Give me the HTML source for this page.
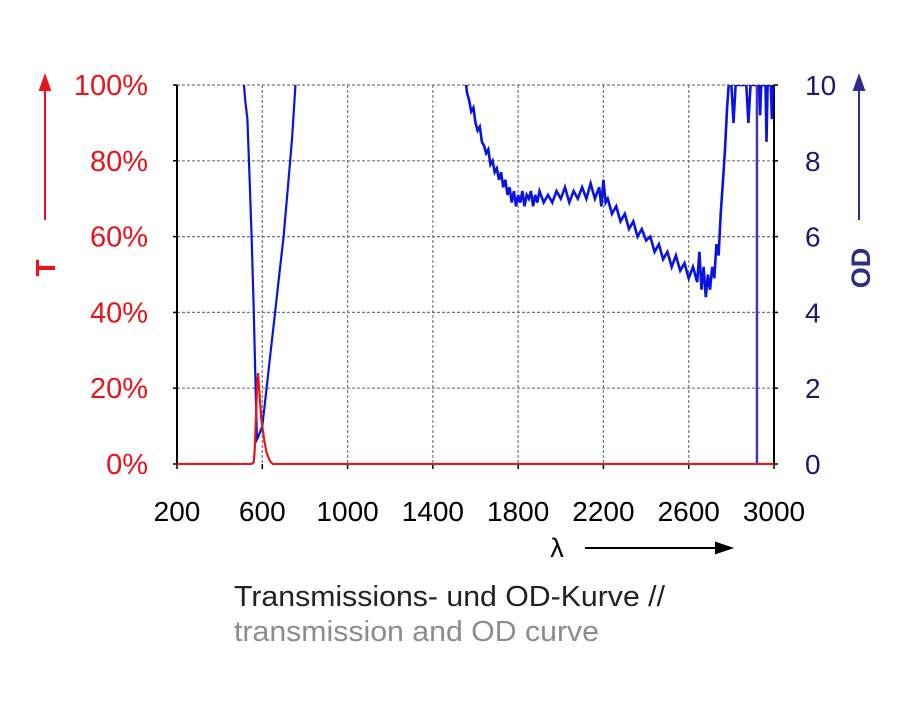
<!DOCTYPE html>
<html><head><meta charset="utf-8"><style>
body{margin:0;background:#fff;}
svg text{font-family:"Liberation Sans",Arial,sans-serif;}
</style></head><body>
<svg width="900" height="700" xmlns="http://www.w3.org/2000/svg">
<g id="grid"></g>
<g id="axes"></g>
<g id="series"></g>
<g id="labels"></g>
<text x="234" y="606" font-size="29" textLength="431" lengthAdjust="spacingAndGlyphs" fill="#222">Transmissions- und OD-Kurve //</text>
<text x="234" y="641" font-size="29" textLength="365" lengthAdjust="spacingAndGlyphs" fill="#8c8c8c">transmission and OD curve</text>
</svg>
<script>
const xTicks=[200,600,1000,1400,1800,2200,2600,3000];
const tTicks=[0,20,40,60,80,100];
const odTicks=[0,2,4,6,8,10];
const odLeftL=[500,520,530,540,550,560,570,575,580,590,600,620,640,660,680,700,720,740,760];
const odLeftV=[11,9.6,9.1,7.6,6.0,4.0,1.7,0.65,0.7,0.85,1.0,2.0,3.0,4.0,5.0,6.0,7.3,8.6,10.4];
const tL=[200,550,560,565,570,575,580,585,590,595,600,610,620,630,640,650,660,3000];
const tV=[0,0,0.5,4,12,20,24,20,16,12,10,6,3,1.5,0.5,0,0,0];
const odRightL=[1550,1560,1570,1580,1590,1600,1610,1620,1630,1640,1650,1660,1670,1680,1690,1700,1710,1720,1730,1740,1750,1760,1770,1780,1790,1800,1810,1820,1830,1840,1850,1860,1870,1880,1890,1900,1920,1940,1960,1980,2000,2020,2040,2060,2080,2100,2120,2140,2160,2180,2190,2200,2210,2220,2240,2260,2280,2300,2320,2340,2360,2380,2400,2420,2440,2460,2480,2500,2520,2540,2560,2580,2600,2620,2640,2650,2660,2670,2680,2690,2700,2710,2720,2730,2740,2750,2760,2770,2780,2790,2800,2810,2820,2870,2880,2890,2930,2935,2940,2960,2965,2970,2985,2990,2995];
const odRightV=[10.3,9.8,9.6,9.3,9.4,9.0,8.8,8.9,8.5,8.4,8.2,8.3,7.9,8.0,7.7,7.8,7.5,7.7,7.3,7.5,7.1,7.3,6.9,7.2,6.8,7.1,6.9,7.2,6.8,7.1,7.0,7.2,6.8,7.1,6.9,7.2,6.9,7.1,6.9,7.2,7.0,7.3,6.9,7.2,7.0,7.3,7.0,7.4,7.0,7.3,6.8,7.5,6.9,7.0,6.6,6.8,6.4,6.6,6.2,6.4,6.0,6.2,5.9,6.0,5.6,5.8,5.4,5.6,5.2,5.5,5.1,5.3,4.9,5.2,4.8,5.6,4.6,5.2,4.4,5.0,4.6,5.2,4.9,5.8,5.5,6.6,7.4,8.3,9.4,10.2,10,9.0,10,10,9.0,10,10,9.2,10,10,8.5,10,10,9.1,10];
const X0=177,X1=774,Y0=464,Y1=85;
const xs=v=>X0+(v-200)/2800*(X1-X0);
const yT=v=>Y0-v/100*(Y0-Y1);
const yOD=v=>Y0-v/10*(Y0-Y1);
const NS='http://www.w3.org/2000/svg';
function mk(tag,attrs,parent,txt){const e=document.createElementNS(NS,tag);for(const k in attrs)e.setAttribute(k,attrs[k]);if(txt!==undefined)e.textContent=txt;document.getElementById(parent).appendChild(e);return e;}
const defs=document.createElementNS(NS,'defs');defs.innerHTML='<clipPath id="pc"><rect x="177" y="85" width="597" height="380"/></clipPath>';document.querySelector('svg').appendChild(defs);
document.getElementById('series').setAttribute('clip-path','url(#pc)');
xTicks.forEach((t,i)=>{
 if(i>0&&i<xTicks.length-1){const g=mk('line',{x1:xs(t),x2:xs(t),y1:Y1,y2:Y0,stroke:'#777','stroke-dasharray':'3,2','stroke-width':1.2},'grid');
 }
 const tk=mk('line',{x1:xs(t),x2:xs(t),y1:Y0,y2:Y0+5,stroke:'#000','stroke-width':1.5},'axes');
 
 const l=mk('text',{x:xs(t),y:521,'font-size':28,'text-anchor':'middle',fill:'#000'},'labels',t);
 
});
tTicks.forEach((t,i)=>{
 if(i>0){const g=mk('line',{x1:X0,x2:X1,y1:yT(t),y2:yT(t),stroke:'#777','stroke-dasharray':'3,2','stroke-width':1.2},'grid');
 }
 const tk=mk('line',{x1:X0-4,x2:X0,y1:yT(t),y2:yT(t),stroke:'#000','stroke-width':1.5},'axes');
 
 const l=mk('text',{x:148,y:yT(t)+10,'font-size':29,'text-anchor':'end',fill:'#e8141c'},'labels',t+'%');
 
});
odTicks.forEach(t=>{
 const tk=mk('line',{x1:X1,x2:X1+4,y1:yOD(t),y2:yOD(t),stroke:'#000','stroke-width':1.5},'axes');
 
 const l=mk('text',{x:805,y:yOD(t)+10,'font-size':28,'text-anchor':'start',fill:'#1b1b6e'},'labels',t);
 
});
let a=mk('line',{x1:X0,x2:X0,y1:Y1,y2:Y0,stroke:'#000','stroke-width':2},'axes');

a=mk('line',{x1:X1,x2:X1,y1:Y1,y2:Y0,stroke:'#000','stroke-width':2},'axes');

function pts(L,V,f){return L.map((l,i)=>xs(l).toFixed(1)+','+f(V[i]).toFixed(1)).join(' ');}
let p=mk('polyline',{points:pts(odLeftL,odLeftV,yOD),fill:'none',stroke:'#0a14e0','stroke-width':2.2},'series');

p=mk('polyline',{points:pts(odRightL,odRightV,yOD),fill:'none',stroke:'#0a14e0','stroke-width':2.6},'series');

p=mk('line',{x1:xs(2920),x2:xs(2920),y1:yOD(0),y2:yOD(10),stroke:'#4a2fc0','stroke-width':2.5},'series');

p=mk('polyline',{points:pts(tL,tV,yT),fill:'none',stroke:'#e8141c','stroke-width':2.2},'series');

let t=mk('text',{x:0,y:0,'font-size':28,'font-weight':'bold',fill:'#e8141c','text-anchor':'middle',transform:'translate(55,268) rotate(-90)'},'labels','T');

t=mk('path',{d:'M45,220 V86 M40,90 L45,76 L50,90 Z',stroke:'#e8141c',fill:'#e8141c','stroke-width':2},'labels');

t=mk('text',{x:0,y:0,'font-size':27,'font-weight':'bold',fill:'#2d2d8a','text-anchor':'middle',transform:'translate(870,268) rotate(-90)'},'labels','OD');

t=mk('path',{d:'M859,220 V86 M854,90 L859,76 L864,90 Z',stroke:'#2d2d8a',fill:'#2d2d8a','stroke-width':2},'labels');

t=mk('text',{x:557,y:557,'font-size':27,fill:'#000','text-anchor':'middle'},'labels','λ');

t=mk('path',{d:'M585,548 H720 M716,543 L731,548 L716,553 Z',stroke:'#000',fill:'#000','stroke-width':2},'labels');

</script>
</body></html>
